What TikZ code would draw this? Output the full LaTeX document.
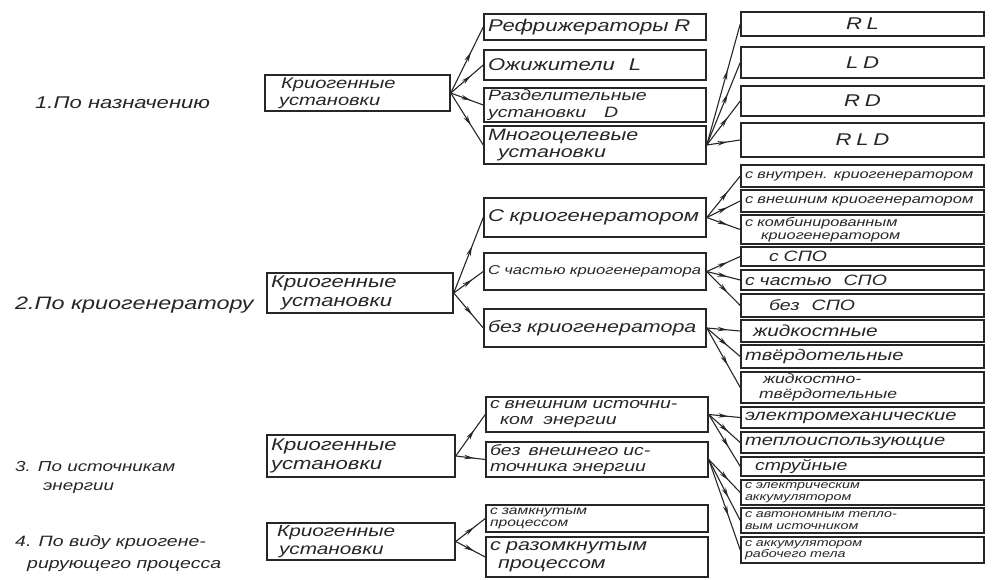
\documentclass[tikz,border=0pt]{standalone}
\usepackage{fontspec}
\newfontfamily\hand{Liberation Sans}[FakeStretch=1.3]
\usetikzlibrary{arrows.meta,decorations.markings}
\definecolor{ink}{HTML}{262626}
\tikzset{
  fs/.style 2 args={font=\hand\itshape\fontsize{#1}{#2}\selectfont},
  box/.style={draw=ink, line width=1.5pt, inner xsep=4pt, inner ysep=0pt, align=left, text=ink},
  mid/.style={box, text width=214pt},
  rgt/.style={box, text width=235pt},
  lbl/.style={anchor=west, align=left, text=ink, inner sep=0pt},
  conn/.style={draw=ink, line width=1.1pt, postaction={decorate},
    decoration={markings, mark=at position 0.62 with {\arrow{Stealth[length=10pt,width=4.5pt]}}}}
}
\begin{document}
\begin{tikzpicture}[x=1pt,y=-1pt]
\useasboundingbox (0,0) rectangle (997,579);
% left labels
\node[lbl, fs={17}{17}] (l1) at (35,103) {1.По назначению};
\node[lbl, fs={18}{18}] (l2) at (15,305) {2.По криогенератору};
\node[lbl, fs={14.5}{19}] (l3) at (15,477) {3. По источникам\\\hspace*{28pt}энергии};
\node[lbl, fs={15}{22}] (l4) at (15,554) {4. По виду криогене-\\\hspace*{12pt}рирующего процесса};
% root boxes
\node[box, fs={15.5}{17}, text width=177pt, minimum height=36pt] (K1) at (357.5,93) {\hspace*{12pt}Криогенные\\\hspace*{10pt}установки};
\node[box, fs={17}{18.5}, text width=178pt, minimum height=40pt] (K2) at (360,293) {Криогенные\\\hspace*{10pt}установки};
\node[box, fs={17}{19}, text width=180pt, minimum height=42pt] (K3) at (361,456) {Криогенные\\установки};
\node[box, fs={16}{17.5}, text width=180pt, minimum height=37pt] (K4) at (361,541.5) {\hspace*{6pt}Криогенные\\\hspace*{8pt}установки};
% section 1
\node[mid, fs={17}{17}, minimum height=26pt] (R) at (595,27) {Рефрижераторы R};
\node[mid, fs={17}{17}, minimum height=30pt] (L) at (595,65) {Ожижители\hspace*{14pt}L};
\node[mid, fs={15}{16.5}, minimum height=34pt] (D) at (595,105) {Разделительные\\установки\hspace*{18pt}D};
\node[mid, fs={16.5}{17.5}, minimum height=38pt] (M) at (595,145) {Многоцелевые\\\hspace*{10pt}установки};
\node[rgt, fs={17}{17}, minimum height=24pt, align=center] (RL) at (862.5,24) {R\;L};
\node[rgt, fs={17}{17}, minimum height=31pt, align=center] (LD) at (862.5,62.5) {L\;D};
\node[rgt, fs={17}{17}, minimum height=30pt, align=center] (RD) at (862.5,101) {R\;D};
\node[rgt, fs={17}{17}, minimum height=34pt, align=center] (RLD) at (862.5,140) {R\;L\;D};
% section 2
\node[mid, fs={17}{17}, minimum height=39pt] (C1) at (595,217.5) {С криогенератором};
\node[mid, fs={12.8}{13}, minimum height=37pt] (C2) at (595,271.5) {С частью криогенератора};
\node[mid, fs={16.5}{16}, minimum height=38pt] (C3) at (595,328) {без криогенератора};
\node[rgt, fs={12.5}{12}, minimum height=22pt] (a1) at (862.5,176) {с внутрен. криогенератором};
\node[rgt, fs={12.7}{12}, minimum height=22pt] (a2) at (862.5,201) {с внешним криогенератором};
\node[rgt, fs={12.5}{13.5}, minimum height=29pt] (a3) at (862.5,229.5) {с комбинированным\\\hspace*{16pt}криогенератором};
\node[rgt, fs={15}{14}, minimum height=19pt] (b1) at (862.5,256.5) {\hspace*{24pt}с СПО};
\node[rgt, fs={15}{14}, minimum height=20pt] (b2) at (862.5,280) {с частью\hspace*{12pt}СПО};
\node[rgt, fs={15}{14}, minimum height=23pt] (b3) at (862.5,305.5) {\hspace*{24pt}без\hspace*{12pt}СПО};
\node[rgt, fs={16}{15}, minimum height=22pt] (c1) at (862.5,331) {\hspace*{8pt}жидкостные};
\node[rgt, fs={15.5}{15}, minimum height=23pt] (c2) at (862.5,356.5) {твёрдотельные};
\node[rgt, fs={13.5}{14.5}, minimum height=31pt] (c3) at (862.5,387.5) {\hspace*{18pt}жидкостно-\\\hspace*{14pt}твёрдотельные};
% section 3
\node[mid, fs={15}{16}, minimum height=35pt] (E1) at (597,414.5) {с внешним источни-\\\hspace*{10pt}ком\hspace*{10pt}энергии};
\node[mid, fs={15}{16}, minimum height=35pt] (E2) at (597,459.5) {без\hspace*{8pt}внешнего ис-\\точника энергии};
\node[rgt, fs={15.5}{14}, minimum height=21pt] (d1) at (862.5,417.5) {электромеханические};
\node[rgt, fs={15.5}{14}, minimum height=21pt] (d2) at (862.5,442.5) {теплоиспользующие};
\node[rgt, fs={15}{14}, minimum height=19pt] (d3) at (862.5,466.5) {\hspace*{10pt}струйные};
\node[rgt, fs={11}{11.5}, minimum height=25pt] (e1) at (862.5,492.5) {с электрическим\\аккумулятором};
\node[rgt, fs={11}{11.5}, minimum height=25pt] (e2) at (862.5,520.5) {с автономным тепло-\\вым источником};
\node[rgt, fs={11}{11.5}, minimum height=26pt] (e3) at (862.5,550) {с аккумулятором\\рабочего тела};
% section 4
\node[mid, fs={12}{12.5}, minimum height=27pt] (F1) at (597,518.5) {с замкнутым\\процессом};
\node[mid, fs={16.5}{17.5}, minimum height=40pt] (F2) at (597,557) {с разомкнутым\\\hspace*{8pt}процессом};
% connectors
\foreach \t in {R,L,D,M} \draw[conn] (K1.east) -- (\t.west);
\foreach \t in {RL,LD,RD,RLD} \draw[conn] (M.east) -- (\t.west);
\foreach \t in {C1,C2,C3} \draw[conn] (K2.east) -- (\t.west);
\foreach \t in {a1,a2,a3} \draw[conn] (C1.east) -- (\t.west);
\foreach \t in {b1,b2,b3} \draw[conn] (C2.east) -- (\t.west);
\foreach \t in {c1,c2,c3} \draw[conn] (C3.east) -- (\t.west);
\foreach \t in {E1,E2} \draw[conn] (K3.east) -- (\t.west);
\foreach \t in {d1,d2,d3} \draw[conn] (E1.east) -- (\t.west);
\foreach \t in {e1,e2,e3} \draw[conn] (E2.east) -- (\t.west);
\foreach \t in {F1,F2} \draw[conn] (K4.east) -- (\t.west);
\end{tikzpicture}
\end{document}
